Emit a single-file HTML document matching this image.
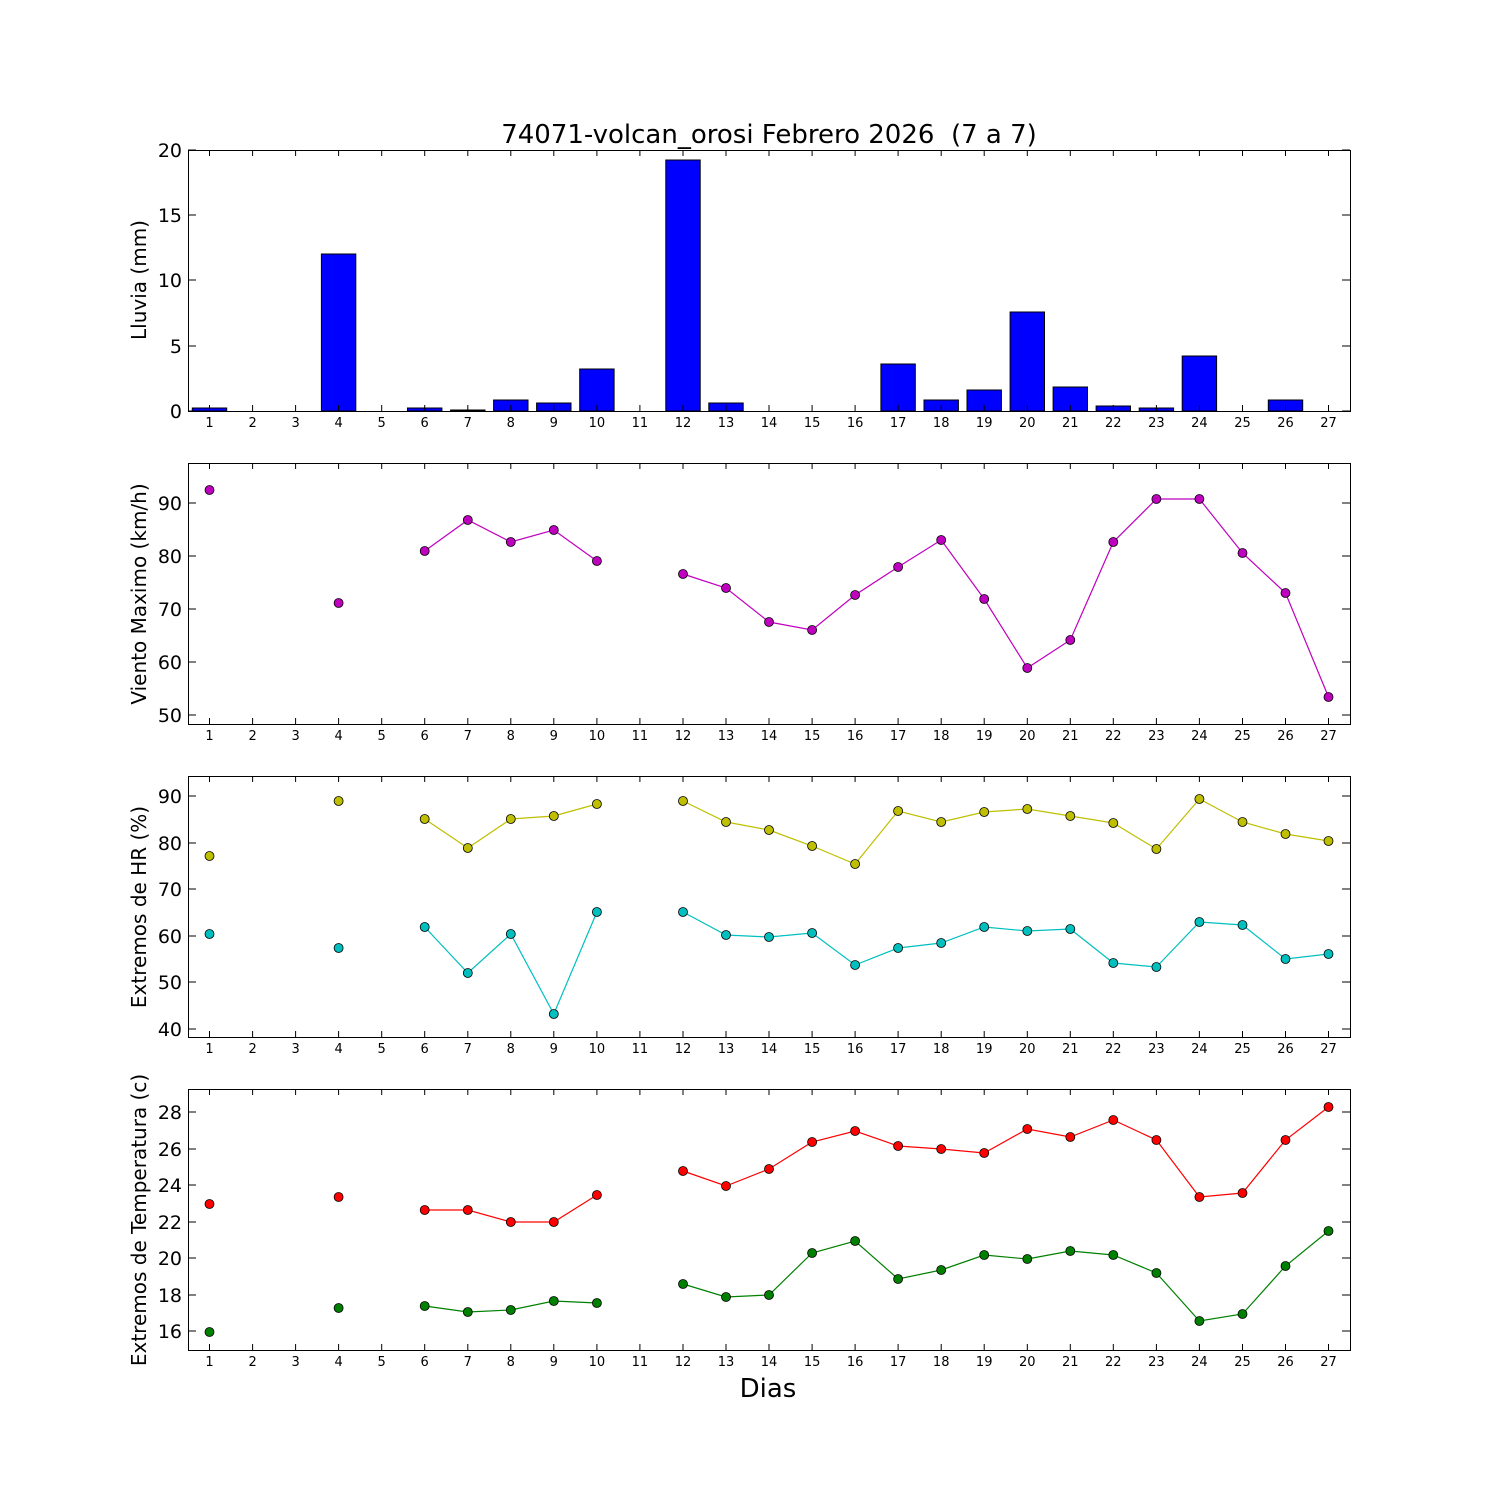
<!DOCTYPE html>
<html><head><meta charset="utf-8"><style>body{margin:0;background:#fff}svg{display:block}text{font-family:"DejaVu Sans","Liberation Sans",sans-serif}circle{r:4.5px}</style></head><body>
<svg width="1500" height="1500" xmlns="http://www.w3.org/2000/svg">
<rect width="1500" height="1500" fill="#fff"/>
<text x="769" y="143" font-size="26" text-anchor="middle" xml:space="preserve">74071-volcan_orosi Febrero 2026  (7 a 7)</text>
<g fill="#0000ff" stroke="#000" stroke-width="1">
<rect x="192.3" y="408" width="34.4" height="3"/>
<rect x="321.4" y="254" width="34.4" height="157"/>
<rect x="407.5" y="408" width="34.4" height="3"/>
<rect x="450.6" y="410" width="34.4" height="1"/>
<rect x="493.6" y="400" width="34.4" height="11"/>
<rect x="536.6" y="403" width="34.4" height="8"/>
<rect x="579.7" y="369" width="34.4" height="42"/>
<rect x="665.8" y="160" width="34.4" height="251"/>
<rect x="708.8" y="403" width="34.4" height="8"/>
<rect x="880.9" y="364" width="34.4" height="47"/>
<rect x="924" y="400" width="34.4" height="11"/>
<rect x="967" y="390" width="34.4" height="21"/>
<rect x="1010.1" y="312" width="34.4" height="99"/>
<rect x="1053.1" y="387" width="34.4" height="24"/>
<rect x="1096.1" y="406" width="34.4" height="5"/>
<rect x="1139.2" y="408" width="34.4" height="3"/>
<rect x="1182.2" y="356" width="34.4" height="55"/>
<rect x="1268.3" y="400" width="34.4" height="11"/>
</g>
<g fill="none" stroke="#000" stroke-width="1">
<rect x="188.5" y="150.5" width="1162" height="261"/>
<rect x="188.5" y="463.5" width="1162" height="261"/>
<rect x="188.5" y="776.5" width="1162" height="261"/>
<rect x="188.5" y="1089.5" width="1162" height="261"/>
</g>
<g stroke="#000" stroke-width="1">
<path d="M188 411h8M188 346h8M188 280h8M188 215h8M188 150h8M1350 411h-8M1350 346h-8M1350 280h-8M1350 215h-8M1350 150h-8"/>
<path d="M188 715h8M188 662h8M188 609h8M188 556h8M188 503h8M1350 715h-8M1350 662h-8M1350 609h-8M1350 556h-8M1350 503h-8"/>
<path d="M188 1029h8M188 982h8M188 936h8M188 889h8M188 843h8M188 796h8M1350 1029h-8M1350 982h-8M1350 936h-8M1350 889h-8M1350 843h-8M1350 796h-8"/>
<path d="M188 1331h8M188 1295h8M188 1258h8M188 1222h8M188 1185h8M188 1149h8M188 1112h8M1350 1331h-8M1350 1295h-8M1350 1258h-8M1350 1222h-8M1350 1185h-8M1350 1149h-8M1350 1112h-8"/>
</g>
<g font-size="19" text-anchor="end">
<text x="182" y="418">0</text><text x="182" y="353">5</text><text x="182" y="287">10</text><text x="182" y="222">15</text><text x="182" y="157">20</text>
<text x="182" y="722">50</text><text x="182" y="669">60</text><text x="182" y="616">70</text><text x="182" y="563">80</text><text x="182" y="510">90</text>
<text x="182" y="1036">40</text><text x="182" y="989">50</text><text x="182" y="943">60</text><text x="182" y="896">70</text><text x="182" y="850">80</text><text x="182" y="803">90</text>
<text x="182" y="1338">16</text><text x="182" y="1302">18</text><text x="182" y="1265">20</text><text x="182" y="1229">22</text><text x="182" y="1192">24</text><text x="182" y="1156">26</text><text x="182" y="1119">28</text>
</g>
<g font-size="20" text-anchor="middle">
<text transform="translate(146 280) rotate(-90)">Lluvia (mm)</text>
<text transform="translate(146 594) rotate(-90)">Viento Maximo (km/h)</text>
<text transform="translate(146 907) rotate(-90)">Extremos de HR (%)</text>
<text transform="translate(146 1220) rotate(-90)">Extremos de Temperatura (c)</text>
</g>
<text x="768" y="1397" font-size="26" text-anchor="middle">Dias</text>
<defs>
<g id="xt" stroke="#000">
<path d="M209.5 0v-6M252.6 0v-6M295.6 0v-6M338.6 0v-6M381.7 0v-6M424.7 0v-6M467.8 0v-6M510.8 0v-6M553.8 0v-6M596.9 0v-6M639.9 0v-6M683 0v-6M726 0v-6M769 0v-6M812.1 0v-6M855.1 0v-6M898.1 0v-6M941.2 0v-6M984.2 0v-6M1027.3 0v-6M1070.3 0v-6M1113.3 0v-6M1156.4 0v-6M1199.4 0v-6M1242.5 0v-6M1285.5 0v-6M1328.5 0v-6"/>
</g>
<g id="xtt" stroke="#000">
<path d="M209.5 0v6M252.6 0v6M295.6 0v6M338.6 0v6M381.7 0v6M424.7 0v6M467.8 0v6M510.8 0v6M553.8 0v6M596.9 0v6M639.9 0v6M683 0v6M726 0v6M769 0v6M812.1 0v6M855.1 0v6M898.1 0v6M941.2 0v6M984.2 0v6M1027.3 0v6M1070.3 0v6M1113.3 0v6M1156.4 0v6M1199.4 0v6M1242.5 0v6M1285.5 0v6M1328.5 0v6"/>
</g>
<g id="xl" font-size="13" text-anchor="middle">
<text x="209.5">1</text><text x="252.6">2</text><text x="295.6">3</text><text x="338.6">4</text><text x="381.7">5</text><text x="424.7">6</text><text x="467.8">7</text><text x="510.8">8</text><text x="553.8">9</text><text x="596.9">10</text><text x="639.9">11</text><text x="683">12</text><text x="726">13</text><text x="769">14</text><text x="812.1">15</text><text x="855.1">16</text><text x="898.1">17</text><text x="941.2">18</text><text x="984.2">19</text><text x="1027.3">20</text><text x="1070.3">21</text><text x="1113.3">22</text><text x="1156.4">23</text><text x="1199.4">24</text><text x="1242.5">25</text><text x="1285.5">26</text><text x="1328.5">27</text>
</g>
</defs>
<use href="#xt" y="411"/><use href="#xtt" y="150"/><use href="#xl" y="427"/>
<use href="#xt" y="724"/><use href="#xtt" y="463"/><use href="#xl" y="740"/>
<use href="#xt" y="1037"/><use href="#xtt" y="776"/><use href="#xl" y="1053"/>
<use href="#xt" y="1350"/><use href="#xtt" y="1089"/><use href="#xl" y="1366"/>
<g fill="none" stroke="#bf00bf" stroke-width="1.2">
<polyline points="424.7,551 467.8,520 510.8,542 553.8,530 596.9,561"/>
<polyline points="683,574 726,588 769,622 812.1,630 855.1,595 898.1,567 941.2,540 984.2,599 1027.3,668 1070.3,640 1113.3,542 1156.4,499 1199.4,499 1242.5,553 1285.5,593 1328.5,697"/>
</g>
<g fill="#bf00bf" stroke="#000" stroke-width="0.8">
<circle cx="209.5" cy="490" r="4.5"/><circle cx="338.6" cy="603" r="4.5"/><circle cx="424.7" cy="551" r="4.5"/><circle cx="467.8" cy="520" r="4.5"/><circle cx="510.8" cy="542" r="4.5"/><circle cx="553.8" cy="530" r="4.5"/><circle cx="596.9" cy="561" r="4.5"/><circle cx="683" cy="574" r="4.5"/><circle cx="726" cy="588" r="4.5"/><circle cx="769" cy="622" r="4.5"/><circle cx="812.1" cy="630" r="4.5"/><circle cx="855.1" cy="595" r="4.5"/><circle cx="898.1" cy="567" r="4.5"/><circle cx="941.2" cy="540" r="4.5"/><circle cx="984.2" cy="599" r="4.5"/><circle cx="1027.3" cy="668" r="4.5"/><circle cx="1070.3" cy="640" r="4.5"/><circle cx="1113.3" cy="542" r="4.5"/><circle cx="1156.4" cy="499" r="4.5"/><circle cx="1199.4" cy="499" r="4.5"/><circle cx="1242.5" cy="553" r="4.5"/><circle cx="1285.5" cy="593" r="4.5"/><circle cx="1328.5" cy="697" r="4.5"/>
</g>
<g fill="none" stroke-width="1.2">
<polyline stroke="#bfbf00" points="424.7,819 467.8,848 510.8,819 553.8,816 596.9,804"/>
<polyline stroke="#bfbf00" points="683,801 726,822 769,830 812.1,846 855.1,864 898.1,811 941.2,822 984.2,812 1027.3,809 1070.3,816 1113.3,823 1156.4,849 1199.4,799 1242.5,822 1285.5,834 1328.5,841"/>
<polyline stroke="#00bfbf" points="424.7,927 467.8,973 510.8,934 553.8,1014 596.9,912"/>
<polyline stroke="#00bfbf" points="683,912 726,935 769,937 812.1,933 855.1,965 898.1,948 941.2,943 984.2,927 1027.3,931 1070.3,929 1113.3,963 1156.4,967 1199.4,922 1242.5,925 1285.5,959 1328.5,954"/>
</g>
<g fill="#bfbf00" stroke="#000" stroke-width="0.8">
<circle cx="209.5" cy="856" r="4.5"/><circle cx="338.6" cy="801" r="4.5"/><circle cx="424.7" cy="819" r="4.5"/><circle cx="467.8" cy="848" r="4.5"/><circle cx="510.8" cy="819" r="4.5"/><circle cx="553.8" cy="816" r="4.5"/><circle cx="596.9" cy="804" r="4.5"/><circle cx="683" cy="801" r="4.5"/><circle cx="726" cy="822" r="4.5"/><circle cx="769" cy="830" r="4.5"/><circle cx="812.1" cy="846" r="4.5"/><circle cx="855.1" cy="864" r="4.5"/><circle cx="898.1" cy="811" r="4.5"/><circle cx="941.2" cy="822" r="4.5"/><circle cx="984.2" cy="812" r="4.5"/><circle cx="1027.3" cy="809" r="4.5"/><circle cx="1070.3" cy="816" r="4.5"/><circle cx="1113.3" cy="823" r="4.5"/><circle cx="1156.4" cy="849" r="4.5"/><circle cx="1199.4" cy="799" r="4.5"/><circle cx="1242.5" cy="822" r="4.5"/><circle cx="1285.5" cy="834" r="4.5"/><circle cx="1328.5" cy="841" r="4.5"/>
</g>
<g fill="#00bfbf" stroke="#000" stroke-width="0.8">
<circle cx="209.5" cy="934" r="4.5"/><circle cx="338.6" cy="948" r="4.5"/><circle cx="424.7" cy="927" r="4.5"/><circle cx="467.8" cy="973" r="4.5"/><circle cx="510.8" cy="934" r="4.5"/><circle cx="553.8" cy="1014" r="4.5"/><circle cx="596.9" cy="912" r="4.5"/><circle cx="683" cy="912" r="4.5"/><circle cx="726" cy="935" r="4.5"/><circle cx="769" cy="937" r="4.5"/><circle cx="812.1" cy="933" r="4.5"/><circle cx="855.1" cy="965" r="4.5"/><circle cx="898.1" cy="948" r="4.5"/><circle cx="941.2" cy="943" r="4.5"/><circle cx="984.2" cy="927" r="4.5"/><circle cx="1027.3" cy="931" r="4.5"/><circle cx="1070.3" cy="929" r="4.5"/><circle cx="1113.3" cy="963" r="4.5"/><circle cx="1156.4" cy="967" r="4.5"/><circle cx="1199.4" cy="922" r="4.5"/><circle cx="1242.5" cy="925" r="4.5"/><circle cx="1285.5" cy="959" r="4.5"/><circle cx="1328.5" cy="954" r="4.5"/>
</g>
<g fill="none" stroke-width="1.2">
<polyline stroke="#ff0000" points="424.7,1210 467.8,1210 510.8,1222 553.8,1222 596.9,1195"/>
<polyline stroke="#ff0000" points="683,1171 726,1186 769,1169 812.1,1142 855.1,1131 898.1,1146 941.2,1149 984.2,1153 1027.3,1129 1070.3,1137 1113.3,1120 1156.4,1140 1199.4,1197 1242.5,1193 1285.5,1140 1328.5,1107"/>
<polyline stroke="#008000" points="424.7,1306 467.8,1312 510.8,1310 553.8,1301 596.9,1303"/>
<polyline stroke="#008000" points="683,1284 726,1297 769,1295 812.1,1253 855.1,1241 898.1,1279 941.2,1270 984.2,1255 1027.3,1259 1070.3,1251 1113.3,1255 1156.4,1273 1199.4,1321 1242.5,1314 1285.5,1266 1328.5,1231"/>
</g>
<g fill="#ff0000" stroke="#000" stroke-width="0.8">
<circle cx="209.5" cy="1204" r="4.5"/><circle cx="338.6" cy="1197" r="4.5"/><circle cx="424.7" cy="1210" r="4.5"/><circle cx="467.8" cy="1210" r="4.5"/><circle cx="510.8" cy="1222" r="4.5"/><circle cx="553.8" cy="1222" r="4.5"/><circle cx="596.9" cy="1195" r="4.5"/><circle cx="683" cy="1171" r="4.5"/><circle cx="726" cy="1186" r="4.5"/><circle cx="769" cy="1169" r="4.5"/><circle cx="812.1" cy="1142" r="4.5"/><circle cx="855.1" cy="1131" r="4.5"/><circle cx="898.1" cy="1146" r="4.5"/><circle cx="941.2" cy="1149" r="4.5"/><circle cx="984.2" cy="1153" r="4.5"/><circle cx="1027.3" cy="1129" r="4.5"/><circle cx="1070.3" cy="1137" r="4.5"/><circle cx="1113.3" cy="1120" r="4.5"/><circle cx="1156.4" cy="1140" r="4.5"/><circle cx="1199.4" cy="1197" r="4.5"/><circle cx="1242.5" cy="1193" r="4.5"/><circle cx="1285.5" cy="1140" r="4.5"/><circle cx="1328.5" cy="1107" r="4.5"/>
</g>
<g fill="#008000" stroke="#000" stroke-width="0.8">
<circle cx="209.5" cy="1332" r="4.5"/><circle cx="338.6" cy="1308" r="4.5"/><circle cx="424.7" cy="1306" r="4.5"/><circle cx="467.8" cy="1312" r="4.5"/><circle cx="510.8" cy="1310" r="4.5"/><circle cx="553.8" cy="1301" r="4.5"/><circle cx="596.9" cy="1303" r="4.5"/><circle cx="683" cy="1284" r="4.5"/><circle cx="726" cy="1297" r="4.5"/><circle cx="769" cy="1295" r="4.5"/><circle cx="812.1" cy="1253" r="4.5"/><circle cx="855.1" cy="1241" r="4.5"/><circle cx="898.1" cy="1279" r="4.5"/><circle cx="941.2" cy="1270" r="4.5"/><circle cx="984.2" cy="1255" r="4.5"/><circle cx="1027.3" cy="1259" r="4.5"/><circle cx="1070.3" cy="1251" r="4.5"/><circle cx="1113.3" cy="1255" r="4.5"/><circle cx="1156.4" cy="1273" r="4.5"/><circle cx="1199.4" cy="1321" r="4.5"/><circle cx="1242.5" cy="1314" r="4.5"/><circle cx="1285.5" cy="1266" r="4.5"/><circle cx="1328.5" cy="1231" r="4.5"/>
</g>
</svg>
</body></html>
